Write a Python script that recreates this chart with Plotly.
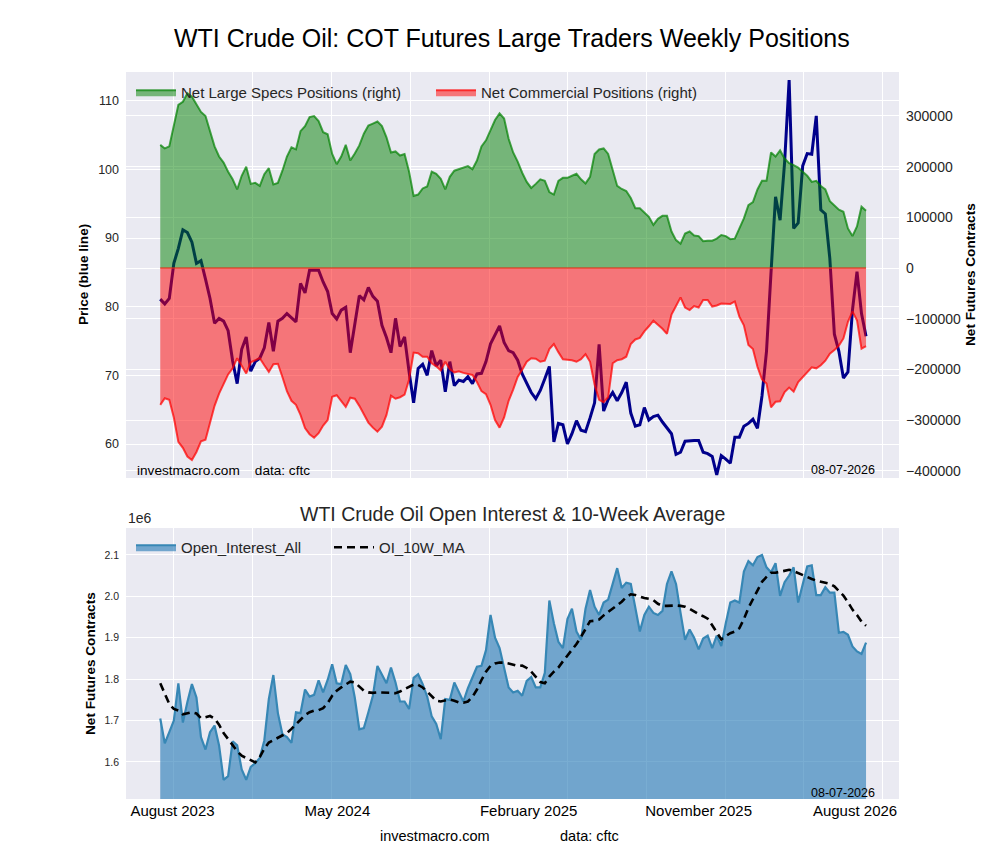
import pandas as pd
import plotly.graph_objects as go

# weekly COT report dates (Tuesdays)
DATES = pd.date_range(end="2026-07-07", periods=157, freq="7D")

# WTI price, USD
PRICE = [
    81.1, 80.4, 81.2, 86.3, 88.5, 91.2, 90.8, 89.4, 86.3, 86.7,
    84.0, 81.2, 77.6, 78.3, 77.9, 76.5, 72.1, 68.8, 73.8, 75.6,
    70.6, 72.0, 72.5, 74.0, 77.7, 73.5, 77.9, 78.3, 79.0, 78.4,
    77.8, 83.4, 82.0, 85.3, 85.3, 85.3, 83.6, 82.2, 79.0, 78.2,
    79.5, 79.9, 73.3, 77.5, 81.6, 81.0, 82.8, 81.5, 80.8, 77.3,
    75.5, 73.3, 78.3, 74.2, 75.6, 70.5, 66.0, 71.0, 71.6, 70.0,
    73.6, 71.4, 72.2, 67.6, 72.0, 68.5, 69.3, 69.1, 69.8, 68.8,
    70.2, 70.3, 72.0, 74.6, 76.0, 77.2, 74.8, 73.6, 73.3, 72.2,
    70.2, 68.8, 67.5, 66.6, 67.8, 69.5, 71.3, 60.3, 63.0, 62.8,
    60.0, 61.5, 63.4, 62.0, 61.8, 63.8, 66.0, 74.5, 64.8, 66.5,
    67.5, 66.3, 67.5, 69.0, 64.5, 62.6, 62.8, 65.3, 63.5, 64.0,
    64.2, 63.2, 62.3, 61.5, 58.5, 58.8, 60.4, 60.5, 60.5, 60.5,
    58.8, 58.6, 58.2, 55.5, 58.3, 57.8, 57.2, 61.0, 61.0, 62.6,
    63.0, 63.6, 62.3, 67.0, 73.5, 85.0, 96.0, 92.6, 101.0, 113.0,
    91.4, 92.2, 100.5, 102.3, 102.2, 107.8, 94.1, 93.5, 87.0, 76.0,
    73.5, 69.6, 70.5, 79.5, 85.1, 79.0, 75.7,
]

# net large speculator positions, thousands of contracts
SPECS_K = [
    243, 236, 240, 282, 322, 328, 345, 338, 322, 308,
    300, 270, 240, 220, 208, 190, 175, 155, 182, 200,
    166, 168, 162, 185, 197, 165, 168, 192, 220, 238,
    234, 270, 280, 298, 300, 290, 268, 264, 225, 205,
    220, 243, 212, 226, 242, 265, 281, 285, 289, 280,
    258, 228, 230, 222, 225, 190, 142, 145, 157, 161,
    190, 186, 176, 155, 180, 192, 195, 198, 201, 195,
    212, 240, 252, 272, 292, 305, 295, 255, 228, 210,
    188, 170, 158, 166, 175, 172, 150, 145, 172, 178,
    178, 182, 186, 175, 167, 180, 225, 234, 236, 225,
    195, 162, 156, 152, 138, 118, 118, 110, 101, 85,
    97, 103, 103, 72, 55, 48, 68, 72, 64, 63,
    53, 54, 54, 58, 65, 63, 57, 58, 78, 98,
    124, 130, 155, 172, 172, 228, 220, 232, 216, 207,
    203, 198, 190, 182, 170, 172, 162, 155, 132, 123,
    115, 111, 78, 63, 82, 121, 113,
]

# net commercial positions, thousands of contracts
COMM_K = [
    -270, -257, -260, -295, -343, -355, -372, -379, -363, -342,
    -339, -308, -272, -248, -230, -210, -198, -178, -193, -208,
    -186, -182, -178, -192, -205, -190, -189, -215, -243, -262,
    -270, -290, -316, -328, -335, -326, -311, -300, -254, -251,
    -263, -274, -256, -258, -272, -290, -305, -315, -323, -313,
    -290, -252, -258, -255, -250, -220, -167, -168, -175, -175,
    -188, -194, -202, -185, -200, -206, -204, -207, -209, -211,
    -225, -243, -249, -270, -300, -315, -295, -262, -240, -215,
    -201, -185, -178, -179, -185, -183, -160, -150, -166, -180,
    -181, -182, -185, -180, -170, -185, -230, -260, -265, -255,
    -188, -182, -180, -175, -150, -141, -138, -125, -115, -104,
    -112, -120, -130, -92, -75, -58, -78, -83, -75, -78,
    -63, -63, -76, -74, -70, -71, -71, -66, -96, -113,
    -152, -160, -195, -220, -228, -275, -264, -263, -245, -236,
    -244, -225, -216, -205, -196, -198, -192, -183, -169, -162,
    -153, -139, -106, -86, -103, -159, -154,
]

# open interest, millions of contracts
OI = [
    1.705, 1.645, 1.672, 1.700, 1.790, 1.695, 1.745, 1.788, 1.756, 1.660,
    1.630, 1.672, 1.688, 1.640, 1.557, 1.566, 1.650, 1.640, 1.582, 1.557,
    1.588, 1.597, 1.610, 1.652, 1.752, 1.810, 1.718, 1.667, 1.660, 1.646,
    1.720, 1.718, 1.775, 1.758, 1.762, 1.797, 1.768, 1.798, 1.836, 1.790,
    1.788, 1.834, 1.812, 1.755, 1.679, 1.682, 1.720, 1.760, 1.832, 1.810,
    1.790, 1.828, 1.792, 1.746, 1.746, 1.728, 1.803, 1.812, 1.788, 1.758,
    1.710, 1.692, 1.655, 1.752, 1.750, 1.792, 1.770, 1.746, 1.778, 1.806,
    1.830, 1.832, 1.870, 1.955, 1.900, 1.875, 1.830, 1.780, 1.768, 1.772,
    1.760, 1.796, 1.805, 1.780, 1.780, 1.815, 1.990, 1.935, 1.890, 1.875,
    1.945, 1.970, 1.915, 1.895, 1.970, 2.015, 1.975, 1.955, 1.985, 1.992,
    2.030, 2.068, 2.020, 2.033, 2.030, 1.970, 1.915, 1.955, 1.975, 1.960,
    1.955, 1.965, 2.030, 2.060, 2.030, 1.960, 1.895, 1.920, 1.900, 1.872,
    1.898, 1.905, 1.875, 1.905, 1.880, 1.935, 1.985, 1.990, 1.985, 2.060,
    2.085, 2.075, 2.095, 2.100, 2.070, 2.058, 2.080, 2.001, 2.034, 2.050,
    2.070, 1.985, 2.030, 2.072, 2.075, 2.003, 2.003, 2.022, 2.009, 2.009,
    1.912, 1.914, 1.907, 1.879, 1.867, 1.861, 1.888,
]

# 10-week moving average of open interest, millions
OI_MA = [
    1.790, 1.764, 1.740, 1.728, 1.724, 1.715, 1.718, 1.720, 1.717, 1.706,
    1.708, 1.711, 1.705, 1.690, 1.670, 1.655, 1.640, 1.626, 1.615, 1.609,
    1.605, 1.599, 1.612, 1.632, 1.647, 1.653, 1.660, 1.665, 1.670, 1.680,
    1.690, 1.702, 1.713, 1.720, 1.724, 1.725, 1.730, 1.742, 1.760, 1.772,
    1.780, 1.788, 1.794, 1.792, 1.783, 1.772, 1.768, 1.767, 1.768, 1.768,
    1.767, 1.767, 1.766, 1.770, 1.776, 1.782, 1.787, 1.786, 1.780, 1.770,
    1.758, 1.748, 1.746, 1.748, 1.751, 1.748, 1.744, 1.743, 1.746, 1.757,
    1.775, 1.798, 1.818, 1.832, 1.838, 1.840, 1.840, 1.838, 1.835, 1.832,
    1.833, 1.827, 1.818, 1.806, 1.793, 1.790, 1.806, 1.818, 1.828, 1.843,
    1.857, 1.871, 1.885, 1.902, 1.920, 1.940, 1.941, 1.944, 1.954, 1.962,
    1.970, 1.977, 1.987, 1.998, 2.005, 2.003, 1.999, 1.996, 1.994, 1.991,
    1.982, 1.977, 1.977, 1.978, 1.978, 1.977, 1.975, 1.970, 1.963, 1.957,
    1.952, 1.946, 1.930, 1.912, 1.896, 1.904, 1.911, 1.915, 1.923, 1.945,
    1.972, 1.993, 2.016, 2.035, 2.047, 2.057, 2.057, 2.059, 2.062, 2.064,
    2.061, 2.056, 2.050, 2.045, 2.042, 2.038, 2.035, 2.032, 2.030, 2.024,
    2.014, 2.002, 1.986, 1.968, 1.955, 1.939, 1.929,
]

TICK_DATES = ["2023-07-30", "2024-04-10", "2025-01-31", "2025-10-21", "2026-06-20"]
TICK_LABELS = ["August 2023", "May 2024", "February 2025", "November 2025", "August 2026"]
GRID_DATES = ["2023-08-01", "2023-12-01", "2024-04-01", "2024-08-01", "2024-12-01",
              "2025-04-01", "2025-08-01", "2025-12-01", "2026-04-01", "2026-08-01"]
X_RANGE = ["2023-05-19", "2026-08-27"]
LAST_DATE = "08-07-2026"

FONT = "Liberation Sans, Arial, sans-serif"
BG = "#EAEAF2"
TICK_COLOR = "#262626"

fig = go.Figure()

# price first, so the semi-transparent position fills sit on top of it
fig.add_trace(go.Scatter(
    x=DATES, y=PRICE, mode="lines", showlegend=False,
    line=dict(color="#00008B", width=3),
    xaxis="x", yaxis="y",
))
fig.add_trace(go.Scatter(
    x=DATES, y=[v * 1000 for v in SPECS_K], mode="lines", fill="tozeroy",
    name="Net Large Specs Positions (right)",
    fillcolor="rgba(0,128,0,0.5)", line=dict(color="rgba(0,128,0,0.7)", width=2),
    xaxis="x", yaxis="y2", legend="legend",
))
fig.add_trace(go.Scatter(
    x=DATES, y=[v * 1000 for v in COMM_K], mode="lines", fill="tozeroy",
    name="Net Commercial Positions (right)",
    fillcolor="rgba(255,0,0,0.5)", line=dict(color="rgba(255,0,0,0.72)", width=2),
    xaxis="x", yaxis="y2", legend="legend",
))
fig.add_trace(go.Scatter(
    x=DATES, y=[0] * len(DATES), mode="lines", showlegend=False, hoverinfo="skip",
    line=dict(color="rgba(225,50,20,0.75)", width=1.3),
    xaxis="x", yaxis="y2",
))

fig.add_trace(go.Scatter(
    x=DATES, y=OI, mode="lines", fill="tozeroy", name="Open_Interest_All",
    fillcolor="rgba(31,119,180,0.6)", line=dict(color="#3787B5", width=2.2),
    xaxis="x2", yaxis="y3", legend="legend2",
))
fig.add_trace(go.Scatter(
    x=DATES, y=OI_MA, mode="lines", name="OI_10W_MA",
    line=dict(color="black", width=2.6, dash="8px,5px"),
    xaxis="x2", yaxis="y3", legend="legend2",
))

XDOM = [0.126, 0.899]
TOP = [1 - 478 / 860, 1 - 72 / 860]
BOT = [1 - 799 / 860, 1 - 528 / 860]

grid = dict(gridcolor="white", gridwidth=1.2, zeroline=False, showline=False, ticks="")

fig.update_layout(
    width=1000, height=860, autosize=False,
    margin=dict(l=0, r=0, t=0, b=0),
    paper_bgcolor="white", plot_bgcolor=BG,
    font=dict(family=FONT, color=TICK_COLOR),
    xaxis=dict(domain=XDOM, anchor="y", type="date", range=X_RANGE,
               tickmode="array", tickvals=GRID_DATES, showticklabels=False,
               showgrid=True, **grid),
    yaxis=dict(domain=TOP, anchor="x", range=[55.05, 114.18], dtick=10, tick0=0,
               tickfont=dict(size=12.5), ticklabelstandoff=6, showgrid=True, **grid),
    yaxis2=dict(overlaying="y", side="right", anchor="x", range=[-414400, 386800],
                dtick=100000, tick0=0, tickformat="d", tickfont=dict(size=14),
                ticklabelstandoff=6, showgrid=True, **grid),
    xaxis2=dict(domain=XDOM, anchor="y3", type="date", range=X_RANGE,
                tickmode="array", tickvals=TICK_DATES, ticktext=TICK_LABELS,
                tickfont=dict(size=15, color="black"), ticklabelstandoff=1,
                showgrid=False,
                minor=dict(tickmode="array", tickvals=GRID_DATES, showgrid=True,
                           gridcolor="white", gridwidth=1.2, ticks=""),
                zeroline=False, showline=False, ticks=""),
    yaxis3=dict(domain=BOT, anchor="x2", range=[1.5106, 2.165], dtick=0.1, tick0=0,
                tickformat=".1f", tickfont=dict(size=10.5), ticklabelstandoff=6,
                showgrid=True, **grid),
    legend=dict(x=0.131, y=1 - 76 / 860, xanchor="left", yanchor="top",
                orientation="h", bgcolor="rgba(0,0,0,0)", borderwidth=0,
                font=dict(size=15, color="#262626"), entrywidth=245,
                itemwidth=40, traceorder="normal"),
    legend2=dict(x=0.131, y=1 - 531 / 860, xanchor="left", yanchor="top",
                 orientation="h", bgcolor="rgba(0,0,0,0)", borderwidth=0,
                 font=dict(size=15, color="#262626"), entrywidth=143,
                 itemwidth=40, traceorder="normal"),
)


def px_text(text, x, y, size, anchor="center", bold=False, angle=0, color="black"):
    fig.add_annotation(
        text=f"<b>{text}</b>" if bold else text,
        x=x / 1000, y=1 - y / 860, xref="paper", yref="paper",
        xanchor=anchor, yanchor="middle", showarrow=False, textangle=angle,
        font=dict(family=FONT, size=size, color=color),
    )


px_text("WTI Crude Oil: COT Futures Large Traders Weekly Positions", 512, 38, 25)
px_text("WTI Crude Oil Open Interest &amp; 10-Week Average", 512, 514, 19.5, color="#262626")
px_text("Price (blue line)", 83, 275, 13.6, bold=True, angle=-90)
px_text("Net Futures Contracts", 970, 275, 13.6, bold=True, angle=-90)
px_text("Net Futures Contracts", 90, 664, 13.6, bold=True, angle=-90)
px_text("1e6", 126, 518, 14, anchor="left", color="#262626")
px_text("investmacro.com &nbsp;&nbsp; data: cftc", 135, 470, 13.6, anchor="left")
px_text(LAST_DATE, 877, 470, 12.5, anchor="right")
px_text(LAST_DATE, 877, 793, 12.5, anchor="right")
px_text("investmacro.com", 435, 836, 14.5)
px_text("data: cftc", 589, 836, 14.5)

# drop the default page margin so the figure sits at the window origin
fig.write_html("out.html", config={"displayModeBar": False},
               post_script="document.body.style.margin='0';")
